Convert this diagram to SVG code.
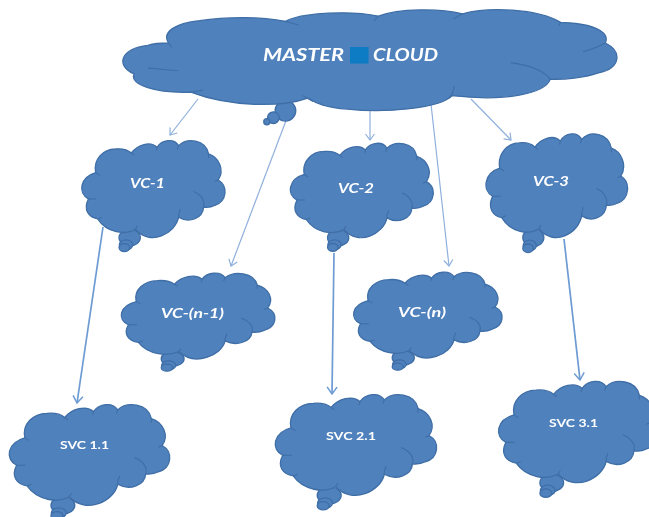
<svg xmlns="http://www.w3.org/2000/svg" xmlns:xlink="http://www.w3.org/1999/xlink" width="649" height="517" viewBox="0 0 649 517">
<style>
.c{fill:#4f81bd;stroke:#3f6ea6;stroke-width:1.3;vector-effect:non-scaling-stroke}
.k{fill:none;stroke:#3f6ea6;stroke-width:1.1;vector-effect:non-scaling-stroke}
.l{fill:none;stroke:#8fb0dc;stroke-width:1.2;marker-end:url(#a)}
.h{fill:none;stroke:#6d9bd3;stroke-width:1.7;marker-end:url(#b)}
.t{fill:#fff;font-family:Lato,"Open Sans",sans-serif;font-weight:700;font-style:italic;font-size:14px}
.s{fill:#fff;font-family:Lato,"Open Sans",sans-serif;font-weight:700;font-size:11.5px}
</style>
<defs>
<filter id="f" x="-2%" y="-2%" width="104%" height="104%"><feGaussianBlur stdDeviation="0.45"/></filter>
<marker id="a" markerUnits="userSpaceOnUse" markerWidth="14" markerHeight="14" refX="11" refY="7" orient="auto"><path d="M5,2.500 L11,7 L5,11.500" fill="none" stroke="#8fb0dc" stroke-width="1.2"/></marker>
<marker id="b" markerUnits="userSpaceOnUse" markerWidth="16" markerHeight="16" refX="13" refY="8" orient="auto"><path d="M6,3 L13,8 L6,13" fill="none" stroke="#6d9bd3" stroke-width="1.5"/></marker>
<g id="cloud">
<ellipse class="c" cx="208" cy="323" rx="32" ry="25"/>
<ellipse class="c" cx="197" cy="345" rx="20" ry="15"/>
<ellipse class="c" cx="192" cy="353" rx="16" ry="12"/>
<path class="c" d="M106,128 C98,88 128,58 165,57 C185,55 203,60 213,69 C232,44 270,32 290,52 C305,28 342,24 355,47 C380,22 436,28 445,72 C476,82 494,120 474,150 C505,168 500,215 464,226 C452,233 440,233 430,232 C428,264 388,282 355,262 C345,312 270,350 225,298 C195,316 140,310 112,267 C85,262 68,240 84,207 C52,190 58,142 106,128 Z"/>
<path class="k" d="M106,128 L118,136 M213,69 L222,76 M290,52 L288,62 M355,47 L351,58 M445,72 L445,84 M474,150 L464,155 M400,185 C425,195 435,215 430,232 M355,262 C354,254 357,245 360,238 M225,298 L231,288 M112,267 L124,262 M84,207 L108,207"/>
</g>
</defs>
<g filter="url(#f)">
<g id="connectors">
<path class="l" d="M198,99 L170,135"/>
<path class="l" d="M287,118 L231,266"/>
<path class="l" d="M370,110 L370,140"/>
<path class="l" d="M431,104 L449,266"/>
<path class="l" d="M471,99 L511,140"/>
<path class="h" d="M103,227 L77,403"/>
<path class="h" d="M334,253 L332,394"/>
<path class="h" d="M564,239 L580,380"/>
</g>
<g id="master-cloud">
<g transform="translate(110,0) scale(.344)">
<circle class="c" cx="510" cy="322" r="30"/>
<circle class="c" cx="475" cy="342" r="17"/>
<circle class="c" cx="456" cy="354" r="9"/>
<path class="c" d="M170,125 C150,92 190,68 260,60 C340,48 440,48 510,62 C560,36 700,30 780,47 C840,24 960,24 1025,40 C1100,20 1240,24 1310,65 C1400,68 1455,90 1440,125 C1490,150 1485,198 1420,212 C1380,226 1320,232 1280,230 C1265,272 1150,296 995,278 C960,314 800,330 690,317 C640,315 600,302 575,285 C500,312 350,312 235,268 C130,272 55,245 70,215 C15,190 30,142 110,132 C130,126 150,125 170,125 Z"/>
<path class="k" d="M505,62 C520,65 535,68 548,73 M780,47 L768,60 M1025,40 L998,55 M1310,65 L1305,75 M1440,125 C1420,135 1400,145 1375,150 M1165,182 C1225,190 1270,210 1280,232 M1000,250 C1000,262 995,275 985,285 M560,278 L590,295 M235,268 L270,262 M110,198 C150,200 170,205 197,205 M170,125 L180,137"/>
</g>
<rect x="350" y="47" width="18.500" height="16.500" fill="#0a7cc4"/>
<text x="263" y="61" font-family="Lato,'Open Sans',sans-serif" font-weight="700" font-style="italic" font-size="16.500" fill="#fff" textLength="81" lengthAdjust="spacingAndGlyphs">MASTER</text>
<text x="373" y="61" font-family="Lato,'Open Sans',sans-serif" font-weight="700" font-style="italic" font-size="16.500" fill="#fff" textLength="65" lengthAdjust="spacingAndGlyphs">CLOUD</text>
</g>
<g id="vc-1"><use href="#cloud" transform="translate(60.400,130) scale(.333,.333)"/><text class="t" x="130" y="188" textLength="35" lengthAdjust="spacingAndGlyphs">VC-1</text></g>
<g id="vc-n-1"><use href="#cloud" transform="translate(98.400,263.900) scale(.357,.294)"/><text class="t" x="161" y="318" textLength="63" lengthAdjust="spacingAndGlyphs">VC-(n-1)</text></g>
<g id="vc-2"><use href="#cloud" transform="translate(269.100,133) scale(.332,.324)"/><text class="t" x="338" y="193" textLength="36" lengthAdjust="spacingAndGlyphs">VC-2</text></g>
<g id="vc-n"><use href="#cloud" transform="translate(331.500,262.900) scale(.345,.294)"/><text class="t" x="398" y="317" textLength="48" lengthAdjust="spacingAndGlyphs">VC-(n)</text></g>
<g id="vc-3"><use href="#cloud" transform="translate(464.900,122.600) scale(.329,.356)"/><text class="t" x="533" y="186" textLength="36" lengthAdjust="spacingAndGlyphs">VC-3</text></g>
<g id="svc-1-1"><use href="#cloud" transform="translate(-14.700,393.600) scale(.373,.346)"/><text class="s" x="60" y="449" textLength="49" lengthAdjust="spacingAndGlyphs">SVC 1.1</text></g>
<g id="svc-2-1"><use href="#cloud" transform="translate(251.200,383.600) scale(.375,.346)"/><text class="s" x="326" y="440" textLength="50" lengthAdjust="spacingAndGlyphs">SVC 2.1</text></g>
<g id="svc-3-1"><use href="#cloud" transform="translate(474.800,370.300) scale(.370,.348)"/><text class="s" x="549" y="427" textLength="49" lengthAdjust="spacingAndGlyphs">SVC 3.1</text></g>
</g>
</svg>
